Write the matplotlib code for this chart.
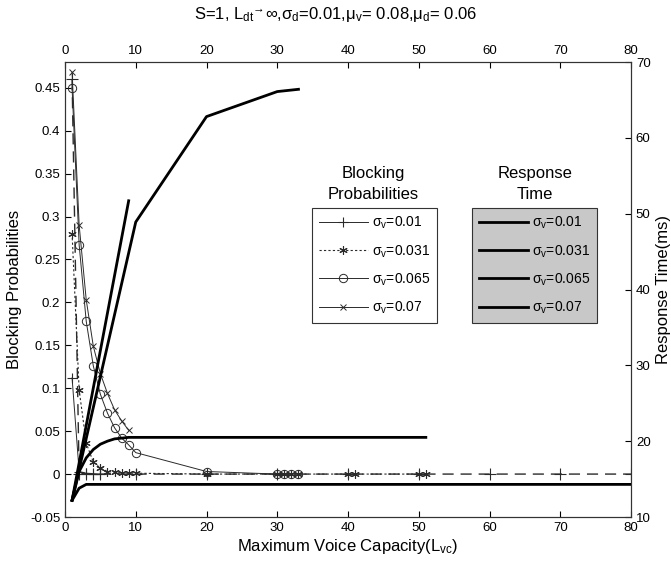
import matplotlib
matplotlib.use("Agg")
import matplotlib.pyplot as plt

plt.rcParams['font.family'] = ['Liberation Sans', 'DejaVu Sans']
plt.rcParams['mathtext.fontset'] = 'custom'
plt.rcParams['mathtext.rm'] = 'Liberation Sans'
plt.rcParams['mathtext.it'] = 'Liberation Sans'
plt.rcParams['mathtext.bf'] = 'Liberation Sans'

# blocking probabilities (left axis)
bp01_x = [1, 2, 3, 4, 5]
bp01_y = [0.112, 0.003, 0.001, 0.0005, 0.0]
bp031_x = [1, 2, 3, 4, 5, 6, 7, 8, 9, 10, 20, 30, 31, 32, 33, 40, 41, 50, 51]
bp031_y = [0.28, 0.098, 0.036, 0.014, 0.007, 0.003, 0.002, 0.001, 0.001, 0.001,
           0.0, 0.0, 0.0, 0.0, 0.0, 0.0, 0.0, 0.0, 0.0]
bp065_x = [1, 2, 3, 4, 5, 6, 7, 8, 9, 10, 20, 30, 31, 32, 33]
bp065_y = [0.45, 0.267, 0.178, 0.126, 0.093, 0.071, 0.054, 0.042, 0.034, 0.025,
           0.003, 0.0, 0.0, 0.0, 0.0]
bp07_x = [1, 2, 3, 4, 5, 6, 7, 8, 9]
bp07_y = [0.468, 0.29, 0.203, 0.149, 0.117, 0.094, 0.075, 0.062, 0.051]
# unlabeled long-dashed series
bpx_x = [1, 2, 3, 4, 5, 10, 20, 30, 40, 50, 60, 70, 80]
bpx_y = [0.46, 0.0, 0.0, 0.0, 0.0, 0.0, 0.0, 0.0, 0.0, 0.0, 0.0, 0.0, 0.0]

# response time (right axis, ms)
rt_a_x = [1, 9]
rt_a_y = [12.2, 51.7]
rt_b_x = [1, 10, 20, 30, 33]
rt_b_y = [12.2, 48.9, 62.8, 66.1, 66.4]
rt_c_x = [1, 2, 3, 4, 5, 6, 7, 8, 9, 10, 20, 30, 40, 51]
rt_c_y = [12.2, 16.0, 17.8, 18.9, 19.6, 20.0, 20.3, 20.4, 20.5, 20.5, 20.5, 20.5, 20.5, 20.5]
rt_d_x = [1, 2, 3, 10, 20, 30, 40, 50, 60, 70, 80]
rt_d_y = [12.2, 13.8, 14.3, 14.3, 14.3, 14.3, 14.3, 14.3, 14.3, 14.3, 14.3]

labels = ['σ$_v$=0.01', 'σ$_v$=0.031', 'σ$_v$=0.065', 'σ$_v$=0.07']
left_ticks = [-0.05, 0, 0.05, 0.1, 0.15, 0.2, 0.25, 0.3, 0.35, 0.4, 0.45]
left_ticklabels = ['-0.05', '0', '0.05', '0.1', '0.15', '0.2', '0.25', '0.3', '0.35', '0.4', '0.45']
right_ticks = [10, 20, 30, 40, 50, 60, 70]
x_ticks = [0, 10, 20, 30, 40, 50, 60, 70, 80]

fig = plt.figure(figsize=(6.71, 5.69), dpi=100)
ax = fig.add_axes([65 / 671, 1 - 517 / 569, 566 / 671, 455 / 569])
ax2 = ax.twinx()

c = '#2a2a2a'
l1, = ax.plot(bp01_x, bp01_y, '-', color=c, lw=0.7, marker='+', ms=7, mew=0.8)
l2, = ax.plot(bp031_x, bp031_y, color=c, lw=0.8, ls=(0, (2, 2)), marker=(6, 2, 0), ms=6, mew=0.8)
l3, = ax.plot(bp065_x, bp065_y, '-', color=c, lw=0.7, marker='o', ms=6, mfc='none', mew=0.7)
l4, = ax.plot(bp07_x, bp07_y, '-', color=c, lw=0.7, marker='x', ms=5, mew=0.7)
ax.plot(bpx_x, bpx_y, color=c, lw=1.0, ls=(0, (8, 5)), marker='+', ms=9, mew=0.8)

r1, = ax2.plot(rt_a_x, rt_a_y, 'k-', lw=2)
r2, = ax2.plot(rt_b_x, rt_b_y, 'k-', lw=2)
r3, = ax2.plot(rt_c_x, rt_c_y, 'k-', lw=2)
r4, = ax2.plot(rt_d_x, rt_d_y, 'k-', lw=2)

ax.set_xlim(0, 80)
ax.set_ylim(-0.05, 0.48)
ax2.set_ylim(10, 70)
ax.set_xticks(x_ticks)
ax.set_yticks(left_ticks)
ax.set_yticklabels(left_ticklabels)
ax2.set_yticks(right_ticks)
ax.tick_params(direction='in', top=True, labeltop=True, labelsize=9.5, length=4)
ax2.tick_params(direction='in', labelsize=9.5, length=4)
for a in (ax, ax2):
    for s in a.spines.values():
        s.set_linewidth(0.8)
        s.set_color('#333333')

ax.set_xlabel('Maximum Voice Capacity(L$_{vc}$)', fontsize=12, labelpad=2)
ax.set_ylabel('Blocking Probabilities', fontsize=12, labelpad=6)
ax2.set_ylabel('Response Time(ms)', fontsize=12, labelpad=4)
fig.text(0.5, 1 - 14 / 569, 'S=1, L$_{dt}$$^{→}$∞,σ$_d$=0.01,μ$_v$= 0.08,μ$_d$= 0.06',
         ha='center', va='center', fontsize=12)

leg_kw = dict(loc='upper left', fontsize=10, handlelength=3.5, handletextpad=0.3,
              labelspacing=0.85, borderpad=0.5, borderaxespad=0, fancybox=False,
              edgecolor='#333333', framealpha=1)
leg1 = fig.legend([l1, l2, l3, l4], labels, bbox_to_anchor=(312 / 671, 1 - 208 / 569), **leg_kw)
leg1.get_frame().set_linewidth(0.8)
leg2 = fig.legend([r1, r2, r3, r4], labels, bbox_to_anchor=(472 / 671, 1 - 208 / 569),
                  facecolor='#c8c8c8', **leg_kw)
leg2.get_frame().set_linewidth(0.8)

fig.text(373 / 671, 1 - 184 / 569, 'Blocking\nProbabilities', ha='center', va='center',
         fontsize=12, linespacing=1.55)
fig.text(535 / 671, 1 - 184 / 569, 'Response\nTime', ha='center', va='center',
         fontsize=12, linespacing=1.55)

fig.savefig('out.png', dpi=100)
